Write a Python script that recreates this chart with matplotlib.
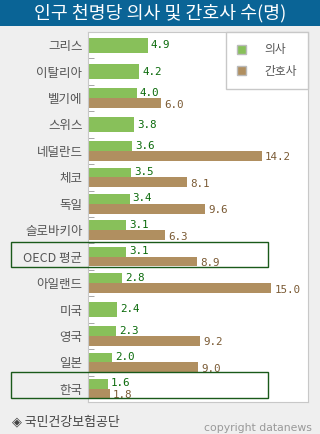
import numpy as np
import matplotlib
matplotlib.use('Agg')
import matplotlib.pyplot as plt
from matplotlib.patches import Rectangle, Patch

plt.rcParams['font.family'] = ['Noto Sans CJK KR', 'DejaVu Sans']

# data
countries = ['그리스', '이탈리아', '벨기에', '스위스', '네덜란드', '체코', '독일',
             '슬로바키아', 'OECD 평균', '아일랜드', '미국', '영국', '일본', '한국']
doctors = [4.9, 4.2, 4.0, 3.8, 3.6, 3.5, 3.4, 3.1, 3.1, 2.8, 2.4, 2.3, 2.0, 1.6]
nurses = [None, None, 6.0, None, 14.2, 8.1, 9.6, 6.3, 8.9, 15.0, None, 9.2, 9.0, 1.8]

green = '#88c05a'
brown = '#b08f60'
green_txt = '#0a6a0a'
brown_txt = '#7a5a34'

W, H = 320, 434
fig = plt.figure(figsize=(W / 100, H / 100), dpi=100)
fig.patch.set_facecolor('#efefef')

# title bar
fig.patches.append(Rectangle((0, 1 - 26 / H), 1, 26 / H, transform=fig.transFigure,
                             facecolor='#0a6496', edgecolor='none', zorder=0))
fig.text(0.5, 1 - 13.5 / H, '인구 천명당 의사 및 간호사 수(명)', color='white',
         fontsize=13.2, ha='center', va='center')

left, right, top, bottom = 88, 308, 32, 402
ax = fig.add_axes([left / W, 1 - bottom / H, (right - left) / W, (bottom - top) / H])
ax.set_facecolor('white')
for s in ax.spines.values():
    s.set_color('#c8c8c8')

y = np.arange(len(countries))
single_h = 0.57
pair_h = 0.37
vfs = 7.8
for i, (d, n) in enumerate(zip(doctors, nurses)):
    if n is None:
        ax.barh(i, d, height=single_h, color=green)
        ax.text(d + 0.25, i, f'{d:.1f}', color=green_txt, fontsize=vfs,
                family='DejaVu Sans Mono', va='center', ha='left')
    else:
        yd = i - pair_h / 2
        yn = i + pair_h / 2
        ax.barh(yd, d, height=pair_h, color=green)
        ax.barh(yn, n, height=pair_h, color=brown)
        ax.text(d + 0.25, yd - 0.02, f'{d:.1f}', color=green_txt, fontsize=vfs,
                family='DejaVu Sans Mono', va='center', ha='left')
        ax.text(n + 0.25, yn + 0.06, f'{n:.1f}', color=brown_txt, fontsize=vfs,
                family='DejaVu Sans Mono', va='center', ha='left')

ax.set_xlim(0, 18)
ax.set_ylim(len(countries) - 0.5, -0.5)
ax.set_xticks([])
ax.set_yticks(y)
ax.set_yticklabels(countries, fontsize=9, color='#555555')
ax.tick_params(axis='y', which='major', length=0, pad=4)
ax.set_yticks(np.arange(len(countries) - 1) + 0.5, minor=True)
ax.tick_params(axis='y', which='minor', direction='in', length=4, color='#999999')

handles = [Patch(facecolor=green, edgecolor='#bbbbbb', label='의사'),
           Patch(facecolor=brown, edgecolor='#bbbbbb', label='간호사')]
leg = ax.legend(handles=handles, loc='upper right', bbox_to_anchor=(1, 1),
                borderaxespad=0, fontsize=8.5, fancybox=False, framealpha=1,
                edgecolor='#c8c8c8', handlelength=0.8, handleheight=0.8,
                handletextpad=1.5, labelspacing=0.75, borderpad=0.95)
for t in leg.get_texts():
    t.set_color('#555555')
leg.get_frame().set_linewidth(1)

# highlight boxes
for (y0, y1) in [(242, 267), (372, 398)]:
    fig.patches.append(Rectangle((11 / W, 1 - y1 / H), (268 - 11) / W, (y1 - y0) / H,
                                 transform=fig.transFigure, facecolor='none',
                                 edgecolor='#1a5a1a', linewidth=1, zorder=5))

fig.text(12 / W, 1 - 422 / H, '◈ 국민건강보험공단', color='#444444', fontsize=9.3,
         ha='left', va='center')
fig.text(312 / W, 1 - 428 / H, 'copyright datanews', color='#999999', fontsize=7.8,
         family='DejaVu Sans', ha='right', va='center')

fig.savefig('out.png', dpi=100, facecolor=fig.get_facecolor())
